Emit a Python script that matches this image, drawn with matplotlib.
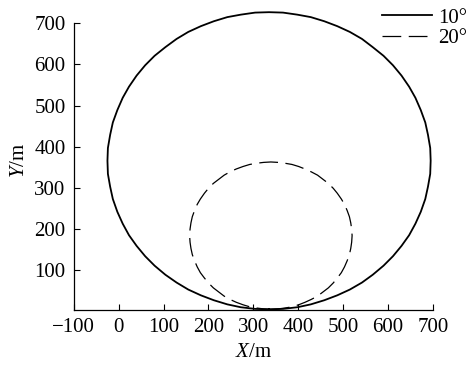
import numpy as np
import matplotlib
matplotlib.use("Agg")
import matplotlib.pyplot as plt

plt.rcParams['font.family'] = ['Liberation Serif', 'DejaVu Serif']
plt.rcParams['mathtext.fontset'] = 'custom'
plt.rcParams['mathtext.rm'] = 'Liberation Serif'
plt.rcParams['mathtext.it'] = 'Liberation Serif:italic'

# turning trajectory, rudder 10 deg
x_10 = [335, 366, 398, 428, 458, 487, 515, 542, 566, 590, 611, 630, 647, 661,
        673, 683, 689, 694, 695, 694, 689, 683, 673, 661, 647, 630, 611, 590,
        566, 542, 515, 487, 458, 428, 398, 366, 335, 304, 272, 242, 212, 183,
        155, 129, 104, 80, 59, 40, 23, 9, -3, -13, -19, -24, -25, -24, -19,
        -13, -3, 9, 23, 40, 59, 80, 104, 129, 155, 183, 212, 242, 272, 304, 335]
y_10 = [5, 6, 10, 17, 27, 39, 53, 70, 89, 111, 134, 159, 185, 213,
        242, 273, 303, 334, 366, 397, 429, 459, 489, 519, 546, 573, 598, 621,
        642, 662, 679, 693, 705, 715, 721, 726, 727, 726, 721, 715, 705, 693,
        679, 662, 642, 621, 598, 573, 546, 519, 489, 459, 429, 397, 366, 334, 303,
        273, 242, 213, 185, 159, 134, 111, 89, 70, 53, 39, 27, 17, 10, 6, 5]

# turning trajectory, rudder 20 deg
x_20 = [339, 355, 370, 386, 401, 415, 429, 443, 455, 467, 478, 487, 496, 503,
        509, 514, 517, 519, 520, 519, 517, 514, 509, 503, 496, 487, 478, 467,
        455, 443, 429, 415, 401, 386, 370, 355, 339, 323, 308, 292, 277, 262,
        248, 235, 223, 211, 200, 191, 182, 175, 169, 164, 161, 159, 158, 159, 161,
        164, 169, 175, 182, 191, 200, 211, 223, 235, 248, 262, 277, 292, 308, 323, 339]
y_20 = [5, 6, 8, 11, 16, 22, 29, 37, 47, 57, 69, 81, 94, 108,
        123, 138, 153, 168, 184, 200, 215, 230, 245, 260, 273, 287, 299, 311,
        321, 331, 339, 346, 352, 357, 360, 362, 363, 362, 360, 357, 352, 346,
        339, 331, 321, 311, 299, 287, 273, 260, 245, 230, 215, 200, 184, 168, 153,
        138, 123, 108, 94, 81, 69, 57, 47, 37, 29, 22, 16, 11, 8, 6, 5]

x_ticks = [-100, 0, 100, 200, 300, 400, 500, 600, 700]
y_ticks = [100, 200, 300, 400, 500, 600, 700]

fig = plt.figure(figsize=(4.67, 3.75), dpi=100)
ax = fig.add_axes([0.158, 0.173, 0.769, 0.80])

ax.plot(x_10, y_10, color='black', linewidth=1.3, label='10°')
ax.plot(x_20, y_20, color='black', linewidth=0.9, dashes=(15, 6), label='20°')

ax.set_xlim(-100, 700)
ax.set_ylim(3, 732)
ax.set_xticks(x_ticks)
ax.set_yticks(y_ticks)
ax.tick_params(direction='in', length=4, width=0.8, labelsize=15, pad=6)
ax.spines['top'].set_visible(False)
ax.spines['right'].set_visible(False)
ax.spines['left'].set_bounds(3, 700)
ax.spines['left'].set_linewidth(0.9)
ax.spines['bottom'].set_linewidth(0.9)

ax.set_xlabel('$X$/m', fontsize=15, labelpad=4)
ax.set_ylabel('$Y$/m', fontsize=15, labelpad=4)

ax.legend(loc='upper right', bbox_to_anchor=(1.118, 1.035), frameon=False,
          fontsize=15, handlelength=2.4, handletextpad=0.3, labelspacing=0.05,
          borderaxespad=0)

fig.savefig('out.png', dpi=100)
